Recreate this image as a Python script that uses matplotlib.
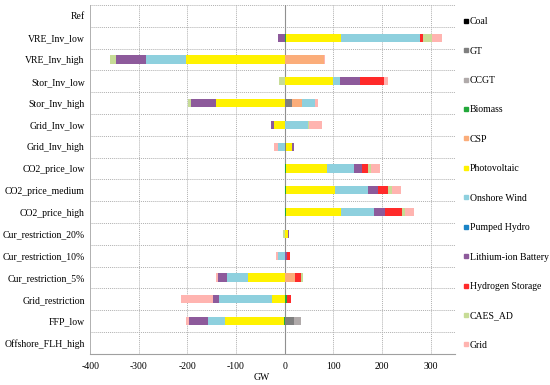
import matplotlib.pyplot as plt
from matplotlib.lines import Line2D
import numpy as np

plt.rcParams['font.family'] = ['Liberation Serif', 'DejaVu Serif']
plt.rcParams['axes.unicode_minus'] = False

# Scenarios, top to bottom
scenarios = ['Ref', 'VRE_Inv_low', 'VRE_Inv_high', 'Stor_Inv_low', 'Stor_Inv_high',
             'Grid_Inv_low', 'Grid_Inv_high', 'CO2_price_low', 'CO2_price_medium',
             'CO2_price_high', 'Cur_restriction_20%', 'Cur_restriction_10%',
             'Cur_restriction_5%', 'Grid_restriction', 'FFP_low', 'Offshore_FLH_high']

# Capacity change per technology (GW), one value per scenario
coal     = [0, 0, 0, 0, 0, 0, 0, 0, 0, 0, 0, 0, 0, 0, 0, 0]
gt       = [0, 0, 0, 0, 15, 0, 3, 0, 0, 0, 0, 0, 0, 0, 18.5, 0]
ccgt     = [0, 0, 0, 0, 0, 0, 0, 0, 0, 0, 0, 0, 0, 0, 16, 0]
biomass  = [0, 3, 0, 0, 0, 0, 0, 3, 3, 3, 0, 0, 0, 5.5, -1, 0]
csp      = [0, 0, 81, 0, 20.5, 0, 0, 0, 0, 0, 0, 0, 20.5, 0, 0, 0]
pv       = [0, 113, -202.5, 99, -141, -22.6, 13, 84, 101, 113, 6, 0, -76, -27, -122, 0]
wind     = [0, 162, -83.6, 15, 26, 47, -13.5, 55, 68, 68, 0, -14.4, -42, -109, -34, 0]
pumped   = [0, 0, 0, 0, 0, 0, 0, 0, 0, 0, 0, 0, 0, 0, 0, 0]
liion    = [0, -13.5, -61.6, 40, -51.3, -4.8, 3, 18, 20, 23, 2.7, 4.8, -19, -12, -39, 0]
hydrogen = [0, 7.5, 0, 50, 0, 0, 0, 12, 21, 34, 0, 6.8, 13, 6.8, 0, 0]
caes     = [0, 16.5, -11.7, -11, -7, 4, 0, 5.5, 7, 5.5, -2.7, 0, 4, 0, 0, 0]
grid     = [0, 22, 2.5, 7.5, 8, 25, -7.5, 18.5, 18.5, 18.5, 0, -2.7, -5, -65, -7, 0]

techs = ['Coal', 'GT', 'CCGT', 'Biomass', 'CSP', 'Photovoltaic', 'Onshore Wind',
         'Pumped Hydro', 'Lithium-ion Battery', 'Hydrogen Storage', 'CAES_AD', 'Grid']
series = [coal, gt, ccgt, biomass, csp, pv, wind, pumped, liion, hydrogen, caes, grid]
colors = ['#000000', '#7f7f7f', '#b0aaaa', '#22a83a', '#fbad7a', '#fff200',
          '#8ed0de', '#1a84c6', '#8d5a9b', '#ff2a2a', '#c7dc96', '#ffb4b0']

fig = plt.figure(figsize=(5.5, 3.85), dpi=100)
ax = fig.add_axes([0.164, 0.081, 0.663, 0.906])

y = np.arange(len(scenarios))
pos = np.zeros(len(scenarios))
neg = np.zeros(len(scenarios))
for vals, col in zip(series, colors):
    v = np.array(vals, dtype=float)
    left = np.where(v >= 0, pos, neg)
    ax.barh(y, v, left=left, height=0.38, color=col, linewidth=0, zorder=3)
    pos += np.clip(v, 0, None)
    neg += np.clip(v, None, 0)

ax.set_ylim(len(scenarios) - 0.5, -0.5)
ax.set_xlim(-400, 350)
ax.set_yticks(y)
ax.set_yticklabels(scenarios, fontsize=7)
ax.set_xticks([-400, -300, -200, -100, 0, 100, 200, 300])
ax.tick_params(axis='both', length=0, labelsize=7, pad=4)
ax.tick_params(axis='x', pad=6)

# dotted grid between rows and at x ticks
for b in np.arange(-0.5, len(scenarios), 1.0):
    ax.axhline(b, color='#b0b0b0', linestyle=(0, (1, 1)), linewidth=0.7, zorder=1)
for xv in [-300, -200, -100, 100, 200, 300]:
    ax.axvline(xv, color='#b0b0b0', linestyle=(0, (1, 1)), linewidth=0.7, zorder=1)
ax.axvline(0, color='#909090', linewidth=0.8, zorder=2)

for s in ['top', 'right']:
    ax.spines[s].set_visible(False)
ax.spines['left'].set_color('#b0b0b0')
ax.spines['left'].set_linestyle((0, (1, 1)))
ax.spines['left'].set_linewidth(0.7)
ax.spines['bottom'].set_color('#a0a0a0')
ax.spines['bottom'].set_linewidth(0.8)

ax.set_xlabel('GW', fontsize=7)
ax.xaxis.set_label_coords(0.471, -0.055)

handles = [Line2D([], [], marker='s', linestyle='none', color=c, markersize=3.5)
           for c in colors]
fig.legend(handles, techs, loc='upper left', bbox_to_anchor=(0.834, 0.968),
           frameon=False, fontsize=7, handlelength=0.5, handletextpad=0.15,
           labelspacing=2.1, borderpad=0)

fig.savefig('out.png', dpi=100)
